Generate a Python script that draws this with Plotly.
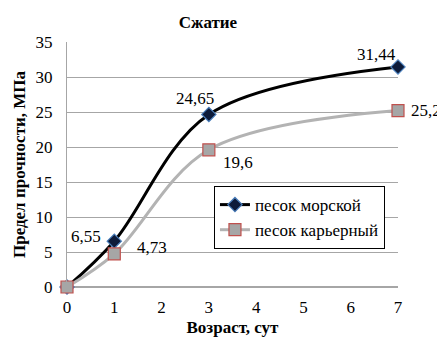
import plotly.graph_objects as go

age = [0, 1, 3, 7]
sea_sand = [0, 6.55, 24.65, 31.44]
quarry_sand = [0, 4.73, 19.6, 25.2]
sea_name = "песок морской"
quarry_name = "песок карьерный"
x_ticks = [0, 1, 2, 3, 4, 5, 6, 7]
y_ticks = [0, 5, 10, 15, 20, 25, 30, 35]

def fmt(v):
    return ("%g" % v).replace(".", ",")

FONT = "Liberation Serif"

fig = go.Figure()
fig.add_trace(go.Scatter(
    x=age, y=sea_sand, name=sea_name, mode="lines+markers", legendgroup="a",
    line=dict(color="#000000", width=3, shape="spline", smoothing=1.0),
    marker=dict(symbol="diamond", size=11, color="#0d1b3a", line=dict(color="#4a7ebb", width=1.2)),
))
fig.add_trace(go.Scatter(
    x=age, y=quarry_sand, name=quarry_name, mode="lines+markers", legendgroup="b",
    line=dict(color="#b3b3b3", width=3, shape="spline", smoothing=1.0),
    marker=dict(symbol="square", size=12, color="#a6a6a6", line=dict(color="#c0504d", width=1.2)),
))

# data labels (skip the zero points)
sea_shift = [None, (-28, 5), (-14, 16), (-22, 12)]
quarry_shift = [None, (38, 6), (29, -13), (28, 0)]
for xs, ys, shifts in ((age, sea_sand, sea_shift), (age, quarry_sand, quarry_shift)):
    for xv, yv, sh in zip(xs, ys, shifts):
        if sh is None:
            continue
        fig.add_annotation(x=xv, y=yv, text=fmt(yv), showarrow=False,
                           xshift=sh[0], yshift=sh[1],
                           font=dict(family=FONT, size=17, color="#000"))

# page body has an 8px margin, so the figure is 8px smaller in each direction
fig.update_layout(
    width=437, height=332,
    margin=dict(l=59, r=47, t=34, b=53),
    paper_bgcolor="white", plot_bgcolor="white",
    font=dict(family=FONT, size=17, color="#000"),
    title=dict(text="<b>Сжатие</b>", x=200 / 437, xanchor="center",
               y=1 - 14 / 332, yanchor="middle", font=dict(family=FONT, size=17)),
    xaxis=dict(range=[0, 7], tickvals=x_ticks, showgrid=False, zeroline=False,
               showline=False, ticks="", tickfont=dict(size=17), automargin=False,
               ticklabelstandoff=8,
               title=dict(text="<b>Возраст, сут</b>", font=dict(size=17), standoff=5)),
    yaxis=dict(range=[0, 35], tickvals=y_ticks, showgrid=True, gridcolor="#a6a6a6", gridwidth=1,
               zeroline=True, zerolinecolor="#a6a6a6", showline=True, linecolor="#a6a6a6",
               ticks="", tickfont=dict(size=17), automargin=False, ticklabelstandoff=10,
               title=dict(text="<b>Предел прочности, МПа</b>", font=dict(size=17), standoff=5)),
    legend=dict(x=0.444, y=0.412, xanchor="left", yanchor="top",
                bordercolor="#000", borderwidth=1, bgcolor="white",
                font=dict(family=FONT, size=17), traceorder="grouped",
                itemwidth=30, tracegroupgap=0),
    showlegend=True,
)
fig.update_traces(cliponaxis=False)
fig.write_html("out.html")
